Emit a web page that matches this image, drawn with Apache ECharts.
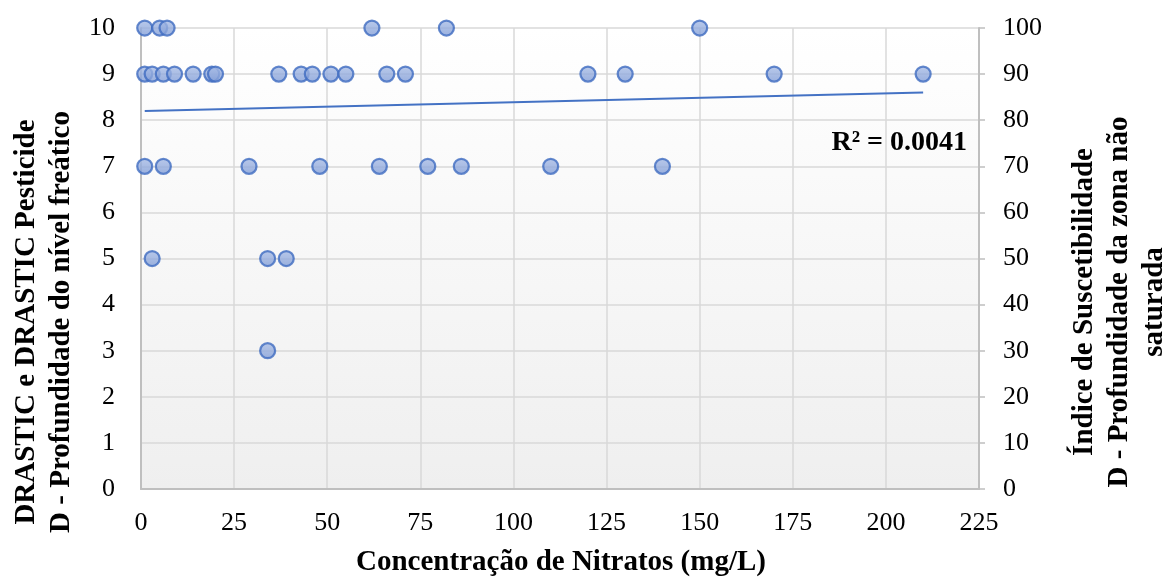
<!DOCTYPE html>
<html>
<head>
<meta charset="utf-8">
<script src="https://cdn.jsdelivr.net/npm/echarts@6/dist/echarts.min.js"></script>
<style>
  html, body { margin: 0; padding: 0; background: #fff; }
  #chart { width: 1166px; height: 578px; }
</style>
</head>
<body>
<div id="chart"></div>
<script>
// nitrate concentration (mg/L) grouped by D rating
const nitrateAt10 = [1, 5, 7, 62, 82, 150];
const nitrateAt9 = [1, 3, 6, 9, 14, 19, 20, 37, 43, 46, 51, 55, 66, 71, 120, 130, 170, 210];
const nitrateAt7 = [1, 6, 29, 48, 64, 77, 86, 110, 140];
const nitrateAt5 = [3, 34, 39];
const nitrateAt3 = [34];
const ratingGroups = [
  [10, nitrateAt10],
  [9, nitrateAt9],
  [7, nitrateAt7],
  [5, nitrateAt5],
  [3, nitrateAt3]
];
// linear trendline ends
const trendX = [1, 210];
const trendY = [8.2, 8.6];
const r2Text = 'R² = 0.0041';

const points = [];
ratingGroups.forEach(function (g) {
  g[1].forEach(function (x) { points.push([x, g[0]]); });
});
const trend = trendX.map(function (x, i) { return [x, trendY[i]]; });

const font = '"Liberation Serif", "Times New Roman", serif';
const chart = echarts.init(document.getElementById('chart'));
chart.setOption({
  animation: false,
  textStyle: { fontFamily: font },
  grid: {
    left: 141, right: 187, top: 28, bottom: 89,
    show: true,
    borderWidth: 0,
    backgroundColor: new echarts.graphic.LinearGradient(0, 0, 0, 1, [
      { offset: 0, color: '#ffffff' },
      { offset: 1, color: '#efefef' }
    ])
  },
  xAxis: {
    type: 'value', min: 0, max: 225, interval: 25,
    axisLine: { show: true, lineStyle: { color: '#bfbfbf', width: 2 } },
    axisTick: { show: false },
    axisLabel: { color: '#000', fontSize: 26, margin: 21, fontFamily: font },
    splitLine: { show: true, lineStyle: { color: '#d9d9d9', width: 1.5 } }
  },
  yAxis: [{
    type: 'value', min: 0, max: 10, interval: 1,
    axisLine: { show: true, lineStyle: { color: '#bfbfbf', width: 2 } },
    axisTick: { show: false },
    axisLabel: { color: '#000', fontSize: 26, margin: 26, fontFamily: font },
    splitLine: { show: true, lineStyle: { color: '#d9d9d9', width: 1.5 } }
  }, {
    type: 'value', min: 0, max: 100, interval: 10, position: 'right',
    axisLine: { show: true, lineStyle: { color: '#bfbfbf', width: 2 } },
    axisTick: { show: true, length: 6, lineStyle: { color: '#bfbfbf', width: 1.5 } },
    axisLabel: { color: '#000', fontSize: 26, margin: 24, fontFamily: font },
    splitLine: { show: false }
  }],
  graphic: [{
    type: 'text', x: 44, y: 322, rotation: Math.PI / 2,
    style: {
      text: 'DRASTIC e DRASTIC Pesticide\nD - Profundidade do nível freático',
      font: 'bold 29px ' + font, fill: '#000',
      align: 'center', verticalAlign: 'middle', lineHeight: 35
    }
  }, {
    type: 'text', x: 1120, y: 302, rotation: Math.PI / 2,
    style: {
      text: 'Índice de Suscetibilidade\nD - Profundidade da zona não\nsaturada',
      font: 'bold 29px ' + font, fill: '#000',
      align: 'center', verticalAlign: 'middle', lineHeight: 35
    }
  }, {
    type: 'text', x: 561, y: 563,
    style: {
      text: 'Concentração de Nitratos (mg/L)',
      font: 'bold 29px ' + font, fill: '#000',
      align: 'center', verticalAlign: 'middle'
    }
  }, {
    type: 'text', x: 967, y: 143,
    style: {
      text: r2Text, font: 'bold 28px ' + font, fill: '#000',
      align: 'right', verticalAlign: 'middle'
    }
  }],
  series: [{
    type: 'line',
    data: trend,
    showSymbol: false,
    lineStyle: { color: '#4472c4', width: 2 },
    z: 2
  }, {
    type: 'scatter',
    data: points,
    symbolSize: 15,
    itemStyle: {
      color: new echarts.graphic.LinearGradient(0, 0, 0, 1, [
        { offset: 0, color: '#a9bde6' },
        { offset: 1, color: '#809cd6' }
      ]),
      borderColor: '#3f6cc0',
      borderWidth: 2.25
    },
    z: 3
  }]
});
</script>
</body>
</html>
